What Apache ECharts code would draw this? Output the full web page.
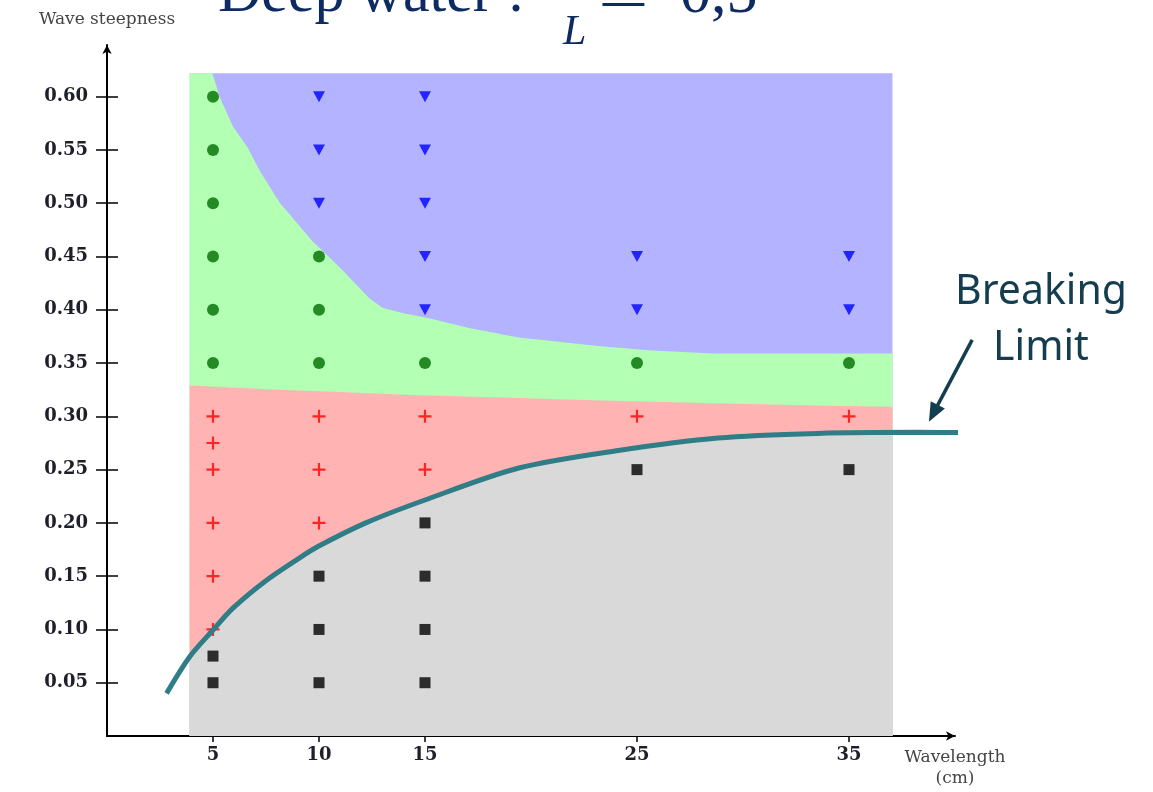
<!DOCTYPE html>
<html><head><meta charset="utf-8">
<script src="https://cdn.jsdelivr.net/npm/echarts@6/dist/echarts.min.js"></script>
<style>html,body{margin:0;padding:0;background:#fff}#c{width:1153px;height:792px}</style>
</head><body><div id="c"></div>
<script>
// ---- tick labels ----
const xTicks = [5, 10, 15, 25, 35];
const yTicks = [0.05, 0.10, 0.15, 0.20, 0.25, 0.30, 0.35, 0.40, 0.45, 0.50, 0.55, 0.60];

// ---- measured points (wavelength cm, steepness) ----
const circles = [[5,0.60],[5,0.55],[5,0.50],[5,0.45],[5,0.40],[5,0.35],[10,0.45],[10,0.40],[10,0.35],[15,0.35],[25,0.35],[35,0.35]];
const triangles = [[10,0.60],[10,0.55],[10,0.50],[15,0.60],[15,0.55],[15,0.50],[15,0.45],[15,0.40],[25,0.45],[25,0.40],[35,0.45],[35,0.40]];
const pluses = [[5,0.30],[5,0.275],[5,0.25],[5,0.20],[5,0.15],[5,0.10],[10,0.30],[10,0.25],[10,0.20],[15,0.30],[15,0.25],[25,0.30],[35,0.30]];
const squares = [[5,0.075],[5,0.05],[10,0.15],[10,0.10],[10,0.05],[15,0.20],[15,0.15],[15,0.10],[15,0.05],[25,0.25],[35,0.25]];

// ---- region boundaries (upper edge of each coloured region) ----
const blueTop = [[3.9,0.622],[37.05,0.622]];
const greenTop = [[3.9,0.622],[4.97,0.622],[5.31,0.600],[5.94,0.572],[6.64,0.552],[7.19,0.531],[8.13,0.501],[9.23,0.475],[9.70,0.464],[10.40,0.451],[11.11,0.437],[11.74,0.424],[12.36,0.411],[12.99,0.402],[13.93,0.397],[15.19,0.392],[17.07,0.383],[19.42,0.374],[23.18,0.366],[25.53,0.362],[28.58,0.359],[37.05,0.359]];
const redTop = [[3.9,0.329],[8.1,0.325],[10.7,0.323],[14.3,0.320],[18.2,0.318],[22.9,0.315],[28.1,0.3125],[33.9,0.310],[37.05,0.309]];
const grayTop = [[3.9,0.074],[5.0,0.0995],[5.94,0.120],[7.51,0.146],[9.07,0.167],[9.97,0.178],[12.21,0.200],[15.0,0.2215],[19.42,0.2515],[24.12,0.268],[28.82,0.2795],[33.52,0.284],[37.05,0.285]];

// ---- breaking limit curve ----
const breakingLimit = [[2.81,0.040],[3.90,0.0744],[5.0,0.0995],[5.94,0.120],[7.51,0.146],[9.07,0.167],[9.97,0.178],[12.21,0.200],[15.0,0.2215],[19.42,0.2515],[24.12,0.268],[28.82,0.2797],[33.52,0.284],[38.22,0.285],[40.79,0.2847]];
const arrowFrom = [40.81, 0.3717];
const arrowTo = [38.77, 0.295];

const chart = echarts.init(document.getElementById('c'), null, {renderer: 'canvas'});
const labelFont = {fontFamily: 'DejaVu Serif', fontWeight: 'bold', fontSize: 18, color: '#1f1f2b'};

function area(data, color) {
  return {type: 'line', data: data, xAxisIndex: 0, yAxisIndex: 0, showSymbol: false, symbol: 'none',
    lineStyle: {width: 0, opacity: 0}, areaStyle: {color: color, opacity: 1}, z: 1, silent: true,
    animation: false};
}
function scat(data, symbol, size, color, rot) {
  return {type: 'scatter', data: data, symbol: symbol, symbolSize: size, symbolRotate: rot || 0,
    itemStyle: {color: color}, z: 3, silent: true, animation: false};
}

chart.setOption({
  animation: false,
  grid: {left: 107, right: 198, top: 45, bottom: 56},
  xAxis: [
    {type: 'value', min: 0, max: 40, position: 'bottom',
     axisLine: {show: true, symbol: ['none', 'arrow'], symbolSize: [7, 9], lineStyle: {color: '#000', width: 2}},
     axisTick: {show: true, inside: false, length: 6, customValues: xTicks, lineStyle: {color: '#000', width: 1.5}},
     axisLabel: {show: true, customValues: xTicks, margin: 10, ...labelFont},
     splitLine: {show: false},
     name: 'Wavelength\n(cm)', nameLocation: 'end', nameGap: 0,
     nameTextStyle: {fontFamily: 'DejaVu Serif', fontSize: 17, color: '#444', align: 'center', verticalAlign: 'top', lineHeight: 21, padding: [11, 0, 0, 0]}},
    {type: 'value', min: 0, max: 40, position: 'bottom', offset: 0,
     axisLine: {show: false},
     axisTick: {show: true, inside: true, length: 6, customValues: xTicks, lineStyle: {color: '#000', width: 1.5}},
     axisLabel: {show: false}, splitLine: {show: false}}
  ],
  yAxis: [
    {type: 'value', min: 0, max: 0.6485, position: 'left',
     axisLine: {show: true, symbol: ['none', 'arrow'], symbolSize: [7, 9], lineStyle: {color: '#000', width: 2}},
     axisTick: {show: true, inside: false, length: 11, customValues: yTicks, lineStyle: {color: '#000', width: 1.5}},
     axisLabel: {show: true, customValues: yTicks, margin: 19, formatter: v => v.toFixed(2), ...labelFont},
     splitLine: {show: false},
     name: 'Wave steepness', nameLocation: 'end', nameGap: 17,
     nameTextStyle: {fontFamily: 'DejaVu Serif', fontSize: 17, color: '#444', align: 'center', verticalAlign: 'bottom'}},
    {type: 'value', min: 0, max: 0.6485, position: 'left', offset: 0,
     axisLine: {show: false},
     axisTick: {show: true, inside: true, length: 11, customValues: yTicks, lineStyle: {color: '#000', width: 1.5}},
     axisLabel: {show: false}, splitLine: {show: false}}
  ],
  series: [
    area(blueTop, '#b3b3ff'),
    area(greenTop, '#b3ffb3'),
    area(redTop, '#ffb3b3'),
    Object.assign(area(grayTop, '#d9d9d9'), {smooth: 0.3}),
    scat(circles, 'circle', 12, '#006e00'),
    scat(triangles, 'triangle', [12, 11], '#0000ff', 180),
    scat(pluses, 'path://M5,0H7V5H12V7H7V12H5V7H0V5H5Z', 13, '#ff0000'),
    scat(squares, 'rect', 11, '#000000'),
    {type: 'line', data: breakingLimit, smooth: 0.3, showSymbol: false, symbol: 'none',
     clip: false, lineStyle: {color: '#2e7d87', width: 5}, z: 5, silent: true, animation: false}
  ]
});

const F = chart.convertToPixel({xAxisIndex: 0, yAxisIndex: 0}, arrowFrom);
const T = chart.convertToPixel({xAxisIndex: 0, yAxisIndex: 0}, arrowTo);
const dx = T[0] - F[0], dy = T[1] - F[1], L = Math.hypot(dx, dy);
const ux = dx / L, uy = dy / L, nx = -uy, ny = ux;
const hl = 19, hw = 8;
const B = [T[0] - ux * hl, T[1] - uy * hl];
const navy = '#0d2a63';
const annot = '#143d50';

chart.setOption({
  graphic: [
    {type: 'text', x: 218, y: -5, silent: true,
     style: {text: 'Deep water :', font: '60px "Liberation Serif"', fill: navy, align: 'left', verticalAlign: 'middle'}},
    {type: 'text', x: 563, y: 33, silent: true,
     style: {text: 'L', font: 'italic 42px "Liberation Serif"', fill: navy, align: 'left', verticalAlign: 'middle'}},
    {type: 'text', x: 598, y: 2, scaleX: 1.5, silent: true,
     style: {text: '=', font: '60px "Liberation Serif"', fill: navy, align: 'left', verticalAlign: 'middle'}},
    {type: 'text', x: 680, y: -4, silent: true,
     style: {text: '0,5', font: '62px "Liberation Serif"', fill: navy, align: 'left', verticalAlign: 'middle'}},
    {type: 'text', x: 1041, y: 292, silent: true,
     style: {text: 'Breaking', font: '41px "Noto Sans"', fill: annot, align: 'center', verticalAlign: 'middle'}},
    {type: 'text', x: 1041, y: 348, silent: true,
     style: {text: 'Limit', font: '41px "Noto Sans"', fill: annot, align: 'center', verticalAlign: 'middle'}},
    {type: 'line', silent: true, shape: {x1: F[0], y1: F[1], x2: B[0] + ux * 2, y2: B[1] + uy * 2},
     style: {stroke: annot, lineWidth: 3.5}},
    {type: 'polygon', silent: true,
     shape: {points: [[T[0], T[1]], [B[0] + nx * hw, B[1] + ny * hw], [B[0] - nx * hw, B[1] - ny * hw]]},
     style: {fill: annot}}
  ]
});
</script>
</body></html>
